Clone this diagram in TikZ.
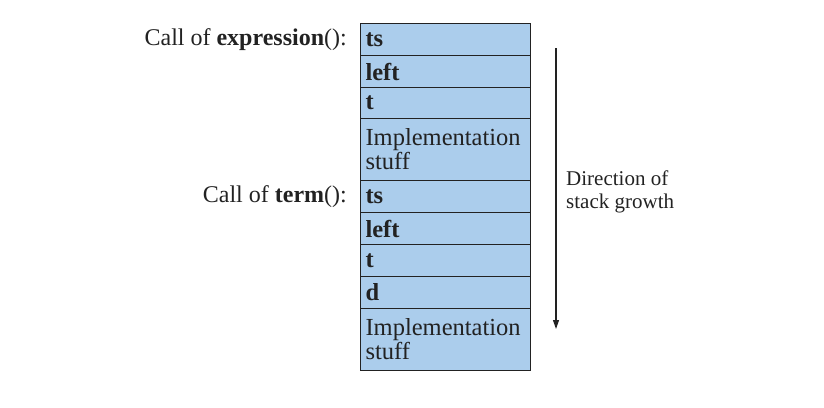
\documentclass[tikz,border=0pt]{standalone}
\usepackage{fontspec}
\setmainfont{Liberation Serif}
\usetikzlibrary{arrows.meta}
\definecolor{cellblue}{HTML}{ABCDEC}
\definecolor{edge}{HTML}{222222}
\tikzset{
  cell/.style={draw=edge, fill=cellblue, line width=1.1pt, rectangle,
    text width=160pt, inner xsep=5pt, inner ysep=0pt, align=left,
    font=\fontsize{24.5}{24}\selectfont, text=edge, anchor=north west, minimum width=170pt},
  lab/.style={font=\fontsize{24}{24}\selectfont, text=edge, anchor=east, inner sep=0pt},
  note/.style={font=\fontsize{21}{23}\selectfont, text=edge, align=left, anchor=west, inner sep=0pt},
}
\begin{document}
\begin{tikzpicture}[x=1pt,y=-1pt]
\useasboundingbox (0,0) rectangle (824,407);
\node[cell, minimum height=32pt] (c1) at (360,23) {\textbf{ts}};
\node[cell, minimum height=32pt] (c2) at (360,55) {\textbf{left}};
\node[cell, minimum height=31pt] (c3) at (360,87) {\textbf{t}};
\node[cell, minimum height=62pt] (c4) at (360,118) {Implementation\\stuff};
\node[cell, minimum height=32pt] (c5) at (360,180) {\textbf{ts}};
\node[cell, minimum height=32pt] (c6) at (360,212) {\textbf{left}};
\node[cell, minimum height=32pt] (c7) at (360,244) {\textbf{t}};
\node[cell, minimum height=32pt] (c8) at (360,276) {\textbf{d}};
\node[cell, minimum height=62pt] (c9) at (360,308) {Implementation\\stuff};
\node[lab] (l1) at ([xshift=-13pt]c1.west) {Call of \textbf{expression}():};
\node[lab] (l2) at ([xshift=-13pt]c5.west) {Call of \textbf{term}():};
\coordinate (a1) at (556,48);
\coordinate (a2) at (556,329);
\draw[edge, line width=1.1pt, -{Triangle[length=9pt,width=6pt]}] (a1) -- (a2);
\node[note] (n1) at (566,192) {Direction of\\stack growth};
\end{tikzpicture}
\end{document}
